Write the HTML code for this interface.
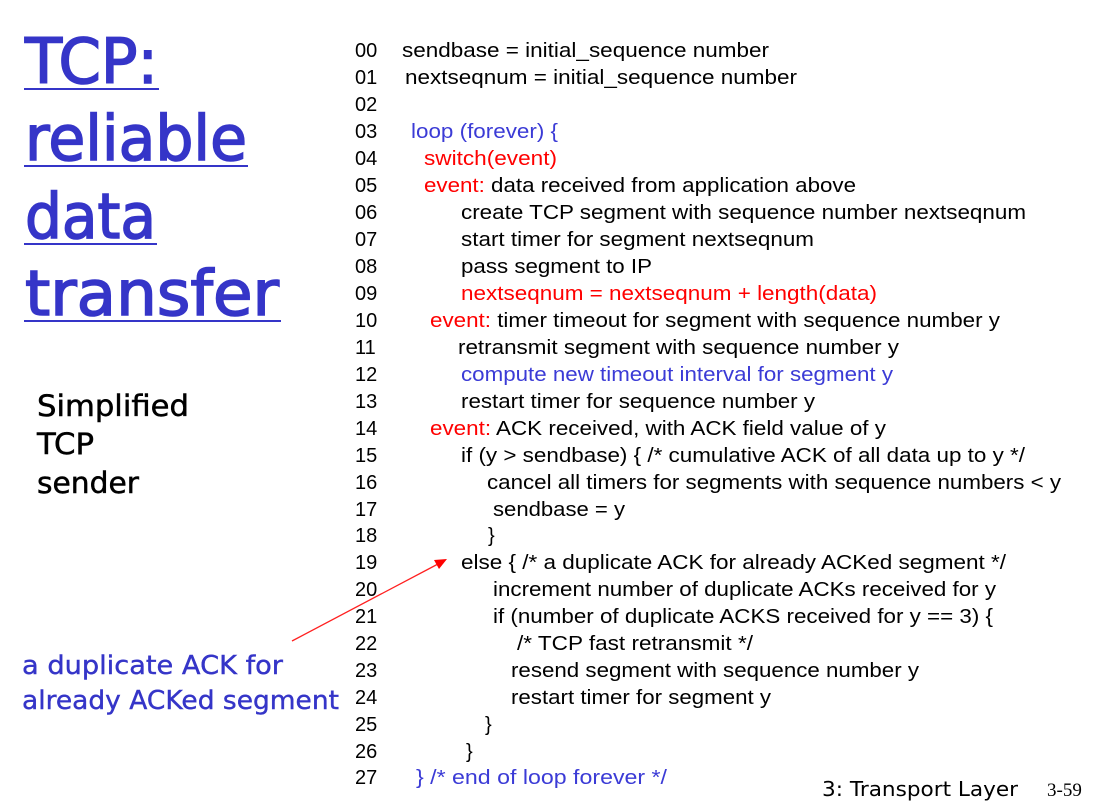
<!DOCTYPE html>
<html><head><meta charset="utf-8"><style>
html,body{margin:0;padding:0;background:#fff;}
svg{display:block}
</style></head><body>
<svg width="1099" height="809" viewBox="0 0 1099 809" xmlns="http://www.w3.org/2000/svg">
<g font-family="DejaVu Sans, sans-serif" fill="#3535c8" stroke="#3535c8" stroke-width="1.6" font-size="62">
<text x="25" y="83" textLength="133" lengthAdjust="spacingAndGlyphs">TCP:</text>
<text x="25" y="160" textLength="222" lengthAdjust="spacingAndGlyphs">reliable</text>
<text x="25" y="238" textLength="131" lengthAdjust="spacingAndGlyphs">data</text>
<text x="25" y="315" textLength="254" lengthAdjust="spacingAndGlyphs">transfer</text>
</g>
<g fill="#3535c8">
<rect x="24" y="88" width="135" height="2"/>
<rect x="24" y="165" width="224" height="2"/>
<rect x="24" y="243" width="133" height="2"/>
<rect x="24" y="320" width="257" height="2"/>
</g>
<g font-family="DejaVu Sans, sans-serif" fill="#000" stroke="#000" stroke-width="0.5" font-size="29">
<text x="37" y="416" textLength="152" lengthAdjust="spacingAndGlyphs">Simplified</text>
<text x="37" y="454" textLength="57" lengthAdjust="spacingAndGlyphs">TCP</text>
<text x="37" y="493" textLength="102" lengthAdjust="spacingAndGlyphs">sender</text>
</g>
<g font-family="DejaVu Sans, sans-serif" fill="#3535c8" stroke="#3535c8" stroke-width="0.4" font-size="26">
<text x="22" y="674" textLength="261" lengthAdjust="spacingAndGlyphs">a duplicate ACK for</text>
<text x="22" y="709" textLength="317" lengthAdjust="spacingAndGlyphs">already ACKed segment</text>
</g>
<line x1="292" y1="641" x2="438" y2="564" stroke="#ff2020" stroke-width="1.3"/>
<polygon points="447,559 434,560 439,569" fill="#ff0000"/>
<g font-family="Liberation Sans, Arial, sans-serif" font-size="20" fill="#000">
<text x="355" y="57">00</text><text x="355" y="84">01</text><text x="355" y="111">02</text>
<text x="355" y="138">03</text><text x="355" y="165">04</text><text x="355" y="192">05</text>
<text x="355" y="219">06</text><text x="355" y="246">07</text><text x="355" y="273">08</text>
<text x="355" y="300">09</text><text x="355" y="327">10</text><text x="355" y="354">11</text>
<text x="355" y="381">12</text><text x="355" y="408">13</text><text x="355" y="435">14</text>
<text x="355" y="462">15</text><text x="355" y="489">16</text><text x="355" y="516">17</text>
<text x="355" y="542">18</text><text x="355" y="569">19</text><text x="355" y="596">20</text>
<text x="355" y="623">21</text><text x="355" y="650">22</text><text x="355" y="677">23</text>
<text x="355" y="704">24</text><text x="355" y="731">25</text><text x="355" y="758">26</text>
<text x="355" y="784">27</text>

<text x="402" y="57" textLength="367" lengthAdjust="spacingAndGlyphs">sendbase = initial_sequence number</text>
<text x="405" y="84" textLength="392" lengthAdjust="spacingAndGlyphs">nextseqnum = initial_sequence number</text>
<text x="411" y="138" fill="#3b3bd6" textLength="147" lengthAdjust="spacingAndGlyphs">loop (forever) {</text>
<text x="424" y="165" fill="#ff0000" textLength="133" lengthAdjust="spacingAndGlyphs">switch(event)</text>
<text x="424" y="192" textLength="432" lengthAdjust="spacingAndGlyphs"><tspan fill="#ff0000">event:</tspan> data received from application above</text>
<text x="461" y="219" textLength="565" lengthAdjust="spacingAndGlyphs">create TCP segment with sequence number nextseqnum</text>
<text x="461" y="246" textLength="353" lengthAdjust="spacingAndGlyphs">start timer for segment nextseqnum</text>
<text x="461" y="273" textLength="191" lengthAdjust="spacingAndGlyphs">pass segment to IP</text>
<text x="461" y="300" fill="#ff0000" textLength="416" lengthAdjust="spacingAndGlyphs">nextseqnum = nextseqnum + length(data)</text>
<text x="430" y="327" textLength="570" lengthAdjust="spacingAndGlyphs"><tspan fill="#ff0000">event:</tspan> timer timeout for segment with sequence number y</text>
<text x="458" y="354" textLength="441" lengthAdjust="spacingAndGlyphs">retransmit segment with sequence number y</text>
<text x="461" y="381" fill="#3b3bd6" textLength="432" lengthAdjust="spacingAndGlyphs">compute new timeout interval for segment y</text>
<text x="461" y="408" textLength="354" lengthAdjust="spacingAndGlyphs">restart timer for sequence number y</text>
<text x="430" y="435" textLength="456" lengthAdjust="spacingAndGlyphs"><tspan fill="#ff0000">event:</tspan> ACK received, with ACK field value of y</text>
<text x="461" y="462" textLength="564" lengthAdjust="spacingAndGlyphs">if (y &gt; sendbase) { /* cumulative ACK of all data up to y */</text>
<text x="487" y="489" textLength="574" lengthAdjust="spacingAndGlyphs">cancel all timers for segments with sequence numbers &lt; y</text>
<text x="493" y="516" textLength="132" lengthAdjust="spacingAndGlyphs">sendbase = y</text>
<text x="488" y="542">}</text>
<text x="461" y="569" textLength="545" lengthAdjust="spacingAndGlyphs">else { /* a duplicate ACK for already ACKed segment */</text>
<text x="493" y="596" textLength="503" lengthAdjust="spacingAndGlyphs">increment number of duplicate ACKs received for y</text>
<text x="493" y="623" textLength="500" lengthAdjust="spacingAndGlyphs">if (number of duplicate ACKS received for y == 3) {</text>
<text x="517" y="650" textLength="236" lengthAdjust="spacingAndGlyphs">/* TCP fast retransmit */</text>
<text x="511" y="677" textLength="408" lengthAdjust="spacingAndGlyphs">resend segment with sequence number y</text>
<text x="511" y="704" textLength="260" lengthAdjust="spacingAndGlyphs">restart timer for segment y</text>
<text x="485" y="731">}</text>
<text x="466" y="758">}</text>
<text x="416" y="784" fill="#3b3bd6" textLength="251" lengthAdjust="spacingAndGlyphs">}  /* end of loop forever */</text>
</g>
<text x="822" y="796" font-family="DejaVu Sans, sans-serif" font-size="20" textLength="196" lengthAdjust="spacingAndGlyphs">3: Transport Layer</text>
<text x="1047" y="796" font-family="Liberation Serif, serif" font-size="19">3-59</text>
</svg>
</body></html>
